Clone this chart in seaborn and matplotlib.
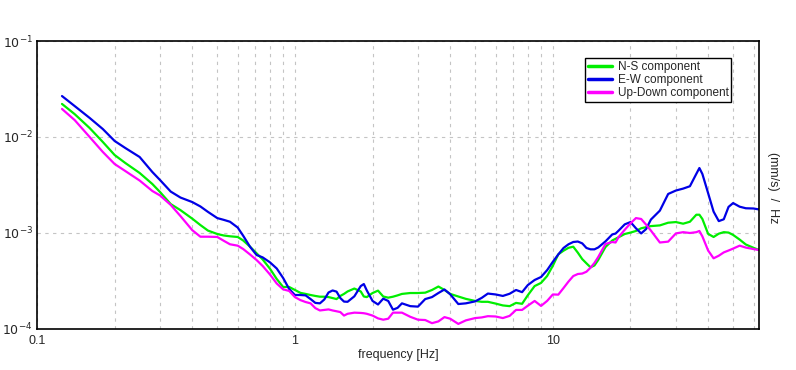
import numpy as np
import pandas as pd
import seaborn as sns
import matplotlib.pyplot as plt
from matplotlib.ticker import LogLocator, FixedLocator, NullFormatter

# frequency grid [Hz]
freq = [0.125, 0.14, 0.16, 0.18, 0.2, 0.22, 0.25, 0.28, 0.3, 0.33, 0.36, 0.4, 0.43, 0.46,
        0.5, 0.53, 0.56, 0.6, 0.63, 0.67, 0.71, 0.75, 0.8, 0.85, 0.9, 0.95,
        1.0, 1.05, 1.1, 1.15, 1.2, 1.25, 1.3, 1.35, 1.4, 1.45, 1.5, 1.55, 1.6, 1.7,
        1.8, 1.85, 1.9, 2.0, 2.1, 2.2, 2.3, 2.4, 2.5, 2.6, 2.8, 3.0, 3.2, 3.4, 3.6,
        3.8, 4.0, 4.3, 4.6, 5.0, 5.3, 5.6, 6.0, 6.4, 6.8, 7.2, 7.6, 8.0, 8.5, 9.0,
        9.5, 10, 10.5, 11, 11.5, 12, 12.5, 13, 13.5, 14, 14.5, 15, 16, 17, 17.5,
        18, 19, 20, 21, 22, 23, 24, 26, 28, 30, 32, 34, 36, 37, 38, 40, 42, 44,
        46, 48, 50, 53, 56, 60, 63]

ns = [2.21e-2, 1.73e-2, 1.24e-2, 8.87e-3, 6.49e-3, 5.36e-3, 4.22e-3, 3.24e-3, 2.67e-3, 2.00e-3,
      1.73e-3, 1.41e-3, 1.21e-3, 1.06e-3, 9.76e-4, 9.42e-4, 9.24e-4, 9.09e-4, 8.36e-4, 7.20e-4,
      6.15e-4, 5.30e-4, 4.25e-4, 3.32e-4, 2.74e-4, 2.74e-4,
      2.55e-4, 2.38e-4, 2.32e-4, 2.26e-4, 2.21e-4, 2.17e-4, 2.17e-4, 2.15e-4, 2.10e-4, 2.05e-4,
      2.21e-4, 2.32e-4, 2.46e-4, 2.64e-4, 2.46e-4, 2.18e-4, 2.15e-4, 2.37e-4, 2.51e-4, 2.18e-4,
      2.12e-4, 2.17e-4, 2.24e-4, 2.32e-4, 2.37e-4, 2.37e-4, 2.39e-4, 2.55e-4, 2.77e-4,
      2.55e-4, 2.32e-4, 2.18e-4, 2.06e-4, 1.96e-4, 1.92e-4, 1.92e-4, 1.84e-4, 1.76e-4, 1.73e-4,
      1.87e-4, 1.83e-4, 2.25e-4, 2.80e-4, 3.02e-4,
      3.56e-4, 4.56e-4, 6.00e-4, 6.54e-4, 7.01e-4, 7.20e-4, 6.24e-4, 5.35e-4, 4.83e-4, 4.39e-4,
      4.59e-4, 5.24e-4, 7.15e-4, 8.36e-4, 8.70e-4,
      9.04e-4, 9.76e-4, 1.01e-3, 1.05e-3, 1.12e-3, 1.15e-3, 1.18e-3, 1.20e-3, 1.28e-3, 1.30e-3,
      1.25e-3, 1.31e-3, 1.55e-3, 1.55e-3, 1.40e-3, 9.80e-4, 9.09e-4, 9.84e-4,
      1.02e-3, 1.01e-3, 9.55e-4, 8.54e-4, 7.59e-4, 7.01e-4, 6.65e-4]

ew = [2.67e-2, 2.10e-2, 1.58e-2, 1.21e-2, 9.09e-3, 7.68e-3, 6.19e-3, 4.32e-3, 3.56e-3, 2.70e-3,
      2.34e-3, 2.10e-3, 1.89e-3, 1.66e-3, 1.43e-3, 1.37e-3, 1.31e-3, 1.14e-3, 9.37e-4, 7.18e-4,
      5.90e-4, 5.57e-4, 4.95e-4, 4.27e-4, 3.40e-4, 2.61e-4,
      2.26e-4, 2.26e-4, 2.24e-4, 2.05e-4, 1.87e-4, 1.85e-4, 2.03e-4, 2.40e-4, 2.52e-4, 2.45e-4,
      2.10e-4, 1.93e-4, 1.92e-4, 2.19e-4, 2.80e-4, 2.94e-4, 2.52e-4, 1.96e-4, 1.80e-4, 2.07e-4,
      1.96e-4, 1.59e-4, 1.66e-4, 1.85e-4, 1.73e-4, 1.71e-4, 2.05e-4, 2.15e-4, 2.37e-4,
      2.58e-4, 2.30e-4, 1.82e-4, 1.85e-4, 1.94e-4, 2.11e-4, 2.34e-4, 2.29e-4, 2.21e-4, 2.33e-4,
      2.55e-4, 2.42e-4, 2.87e-4, 3.24e-4, 3.48e-4,
      4.10e-4, 5.01e-4, 5.98e-4, 6.98e-4, 7.63e-4, 8.06e-4, 8.15e-4, 7.80e-4, 6.98e-4, 6.76e-4,
      6.76e-4, 7.07e-4, 8.18e-4, 9.67e-4, 9.86e-4,
      1.06e-3, 1.23e-3, 1.30e-3, 1.12e-3, 9.90e-4, 1.10e-3, 1.38e-3, 1.71e-3, 2.55e-3, 2.77e-3,
      2.90e-3, 3.07e-3, 4.13e-3, 4.75e-3, 4.12e-3, 2.60e-3, 1.67e-3, 1.33e-3,
      1.39e-3, 1.87e-3, 2.05e-3, 1.88e-3, 1.81e-3, 1.80e-3, 1.76e-3]

ud = [1.96e-2, 1.50e-2, 1.00e-2, 6.98e-3, 5.23e-3, 4.42e-3, 3.52e-3, 2.74e-3, 2.46e-3, 1.96e-3,
      1.50e-3, 1.07e-3, 9.15e-4, 9.15e-4, 9.09e-4, 8.29e-4, 7.63e-4, 7.38e-4, 6.81e-4, 5.97e-4,
      5.23e-4, 4.53e-4, 3.70e-4, 2.98e-4, 2.59e-4, 2.49e-4,
      2.15e-4, 2.00e-4, 1.91e-4, 1.85e-4, 1.65e-4, 1.56e-4, 1.58e-4, 1.60e-4, 1.56e-4, 1.53e-4,
      1.50e-4, 1.38e-4, 1.44e-4, 1.48e-4, 1.47e-4, 1.46e-4, 1.44e-4, 1.38e-4, 1.29e-4, 1.25e-4,
      1.28e-4, 1.48e-4, 1.48e-4, 1.48e-4, 1.34e-4, 1.25e-4, 1.24e-4, 1.15e-4, 1.20e-4,
      1.33e-4, 1.28e-4, 1.13e-4, 1.23e-4, 1.30e-4, 1.32e-4, 1.36e-4, 1.35e-4, 1.30e-4, 1.37e-4,
      1.58e-4, 1.58e-4, 1.75e-4, 1.96e-4, 1.74e-4,
      1.96e-4, 2.29e-4, 2.28e-4, 2.67e-4, 3.12e-4, 3.56e-4, 3.74e-4, 3.78e-4, 3.95e-4, 4.35e-4,
      4.88e-4, 5.63e-4, 7.68e-4, 8.06e-4, 7.96e-4,
      9.09e-4, 1.08e-3, 1.26e-3, 1.43e-3, 1.40e-3, 1.22e-3, 1.06e-3, 7.96e-4, 8.13e-4, 9.90e-4,
      1.02e-3, 1.00e-3, 1.02e-3, 1.05e-3, 9.22e-4, 6.57e-4, 5.45e-4, 5.80e-4,
      6.28e-4, 6.57e-4, 6.88e-4, 7.38e-4, 7.05e-4, 6.80e-4, 6.65e-4]

labels = ["N-S component", "E-W component", "Up-Down component"]
colors = ["#00ee00", "#0000e6", "#ff00ff"]

df = pd.DataFrame({"freq": freq * 3,
                   "psd": ns + ew + ud,
                   "comp": np.repeat(labels, len(freq))})

sns.set_style("white")
plt.rcParams["font.family"] = ["Liberation Sans", "DejaVu Sans"]

fig = plt.figure(figsize=(7.96, 3.70), dpi=100)
ax = fig.add_axes([37/796, 1 - 329/370, 722/796, 288/370])

sns.lineplot(data=df, x="freq", y="psd", hue="comp", palette=colors,
             linewidth=1.6, ax=ax, estimator=None, sort=False)

ax.set_xscale("log")
ax.set_yscale("log")
ax.set_xlim(0.1, 63)
ax.set_ylim(1e-4, 1e-1)

ax.xaxis.set_major_locator(FixedLocator([0.1, 1, 10]))
ax.set_xticklabels(["0.1", "1", "10"])
ax.xaxis.set_minor_locator(LogLocator(base=10, subs=np.arange(2, 10)))
ax.xaxis.set_minor_formatter(NullFormatter())
ax.yaxis.set_major_locator(FixedLocator([1e-4, 1e-3, 1e-2, 1e-1]))
ax.set_yticklabels([r"$10^{-4}$", r"$10^{-3}$", r"$10^{-2}$", r"$10^{-1}$"])
ax.yaxis.set_minor_locator(FixedLocator([]))

ax.tick_params(axis="both", which="major", length=0, labelsize=9, pad=4)
ax.tick_params(axis="y", which="major", pad=3)
ax.tick_params(axis="x", which="minor", direction="in", length=3, color="#999999")

ax.grid(True, which="major", axis="y", color="#c4c4c4", linestyle=(0, (3, 4)), linewidth=0.8)
ax.grid(True, which="both", axis="x", color="#c4c4c4", linestyle=(0, (3, 4)), linewidth=0.8)

for s in ax.spines.values():
    s.set_color("black")
    s.set_linewidth(1.2)

ax.set_xlabel("frequency [Hz]", fontsize=9, labelpad=2)
ax.set_ylabel("")
fig.text(773/796, 1 - 188/370, "(mm/s)  /  Hz", rotation=270, fontsize=9,
         ha="center", va="center")

leg = ax.legend(loc="upper right", bbox_to_anchor=(0.97, 0.96), fontsize=8.5,
                frameon=True, fancybox=False, framealpha=1, borderpad=0.2,
                handlelength=2.1, handletextpad=0.5, labelspacing=0.1)
leg.get_frame().set_edgecolor("black")
leg.get_frame().set_linewidth(1.0)
for line in leg.get_lines():
    line.set_linewidth(2.5)

fig.savefig("out.png", dpi=100)
